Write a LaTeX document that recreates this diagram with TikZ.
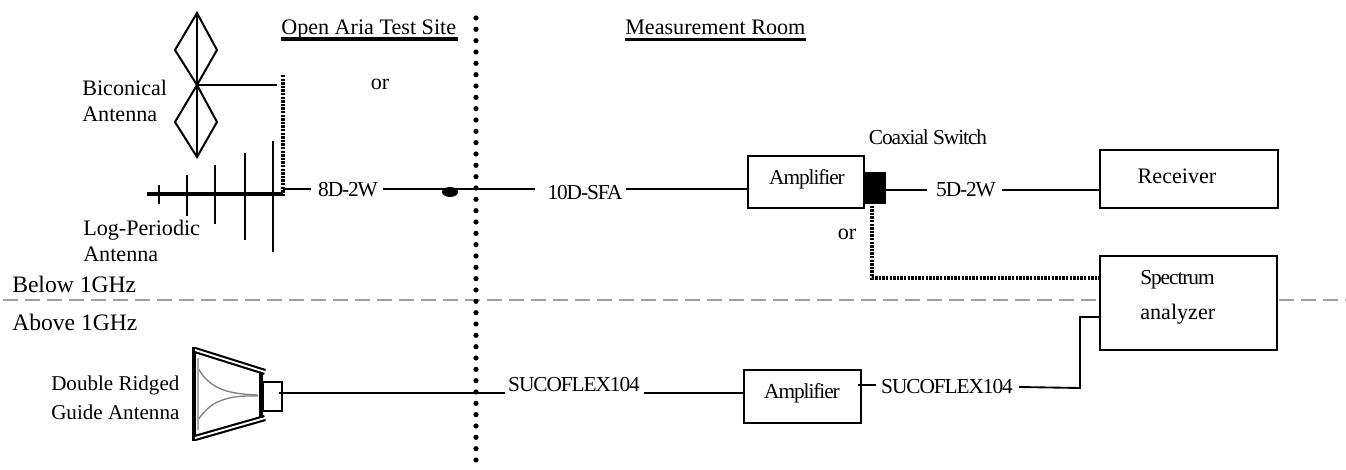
\documentclass[tikz,border=0pt]{standalone}
\usepackage{fontspec}
\setmainfont{Liberation Serif}
\newfontfamily\tightfont[LetterSpace=-5]{Liberation Serif}
\usetikzlibrary{calc}
\tikzset{
  x=0.75pt,y=-0.75pt,
  wire/.style={draw=black,line width=1.4pt},
  dotline/.style={draw=black,line width=2.3pt,dash pattern=on 1.8pt off 0.9pt},
  txt/.style={inner sep=0pt,font=\fontsize{16.6pt}{18pt}\selectfont,anchor=base west},
  ctxt/.style={inner sep=0pt,font=\fontsize{16.6pt}{18pt}\selectfont,anchor=base},
  ttxt/.style={inner sep=0pt,font=\tightfont\fontsize{16pt}{18pt}\selectfont,anchor=base},
  boxn/.style={draw=black,line width=1.6pt,fill=white,inner sep=0pt},
  element/.style={draw=black,line width=1.5pt},
}
\newcommand{\boxat}[5]{\node[boxn,minimum width=#4*0.75pt,minimum height=#5*0.75pt,anchor=north west] (#1) at (#2,#3) {};}
\begin{document}
\begin{tikzpicture}
\useasboundingbox (0,0) rectangle (1346,470);
% separator
\coordinate (dashL) at (3,300);
\coordinate (dashR) at (1346,300);
\draw[draw=black!38,line width=1.5pt,dash pattern=on 11.5pt off 5pt] (dashL) -- (dashR);
% vertical boundary
\coordinate (vT) at (476,18);
\coordinate (vB) at (476,470);
\draw[line width=3.9pt,line cap=round,dash pattern=on 0pt off 8.5pt] (vT) -- (vB);
% headings
\node[txt] (openT) at (281,35) {Open Aria Test Site};
\draw[line width=3pt] (281,39.5) -- (458,39.5);
\node[txt] (measT) at (625,35) {Measurement Room};
\draw[line width=2.4pt] (625,39.5) -- (806,39.5);
\node[ctxt] (or1) at (380,90) {or};
% biconical
\coordinate (bT) at (197,13);
\coordinate (bC) at (197,85);
\coordinate (bB) at (197,157);
\draw[element] (bT) -- (217,50) -- (bC) -- (217,122) -- (bB) -- (175,122) -- (bC) -- (175,50) -- cycle;
\draw[element] (bT) -- (bB);
\coordinate (swT) at (283,75);
\coordinate (swB) at (283,197);
\draw[wire] (bC) -- (277,85);
\draw[dotline] (swT) -- (swB);
\node[txt] (bic1) at (82,96) {Biconical};
\node[txt] (bic2) at (82,122) {Antenna};
% log periodic
\draw[line width=2.4pt] (147,194) -- (swB |- 0,194);
\foreach \xx/\ya/\yb in {159/185/204,187/175/216,215/165/224,245/153/240,273/141/252}
  \draw[element] (\xx,\ya) -- (\xx,\yb);
\node[txt] (lp1) at (83,236) {Log-Periodic};
\node[txt] (lp2) at (83,262) {Antenna};
% cable 1
\node[ttxt] (c8d) at (348,197) {8D-2W};
\draw[wire] (283,189) -- (311,189);
\draw[wire] (383,189) -- (535,189);
\fill (450,192) ellipse [x radius=8,y radius=5];
\node[ttxt] (c10d) at (585,200) {10D-SFA};
\boxat{amp}{747}{155}{116}{52}
\node[ttxt] (ampt) at (807,185) {Amplifier};
\draw[wire] (626,189) -- (amp.west |- 0,189);
\node[boxn,fill=black,minimum width=15.75pt,minimum height=22.5pt,anchor=north west] (sw) at (863,172) {};
\node[ttxt] (swl) at (928,145) {Coaxial Switch};
\node[ttxt] (c5d) at (966,197) {5D-2W};
\boxat{rcv}{1099}{149}{178}{58}
\node[ctxt] (rcvt) at (1177,184) {Receiver};
\draw[wire] (sw.east |- 0,190) -- (927,190);
\draw[wire] (1002,190) -- (rcv.west |- 0,190);
\node[ctxt] (or2) at (847,240) {or};
\boxat{spec}{1099}{255}{177}{94}
\node[txt,font=\tightfont\fontsize{16pt}{18pt}\selectfont] (sp1) at (1140,285) {Spectrum};
\node[txt] (sp2) at (1140,320) {analyzer};
\coordinate (dotC) at (872,278);
\draw[dotline] (872,202) -- (dotC) -- (spec.west |- dotC);
% region labels
\node[txt,font=\fontsize{17.7pt}{19pt}\selectfont] (below) at (12,293) {Below 1GHz};
\node[txt,font=\fontsize{17.7pt}{19pt}\selectfont] (above) at (12,330) {Above 1GHz};
% horn
\node[txt,font=\fontsize{15.8pt}{18pt}\selectfont] (dr1) at (51,390) {Double Ridged};
\node[txt,font=\fontsize{15.8pt}{18pt}\selectfont] (dr2) at (51,419) {Guide Antenna};
\draw[line width=3pt] (193.5,347) -- (193.5,441);
\draw[line width=4.6pt] (195,350) -- (265,372);
\draw[line width=1.4pt,white] (195,350) -- (265,372);
\draw[line width=4.6pt] (195,438) -- (265,418);
\draw[line width=1.4pt,white] (195,438) -- (265,418);
\draw[line width=3pt] (261,372) -- (261,418);
\draw[black!50,line width=1pt] (198,368) .. controls (210,390) and (230,394) .. (258,395);
\draw[black!50,line width=1pt] (198,420) .. controls (210,402) and (225,395) .. (258,396);
\draw[black!35,line width=1pt] (198,358) -- (198,430);
\boxat{feed}{262}{381}{19}{29}
\draw[wire] (279,393) -- (505,393);
% lower chain
\node[ttxt] (s1) at (574,392) {SUCOFLEX104};
\boxat{amp2}{743}{369}{117}{53}
\draw[wire] (644,393) -- (amp2.west |- 0,393);
\node[ttxt] (amp2t) at (802,398) {Amplifier};
\node[ttxt] (s2) at (947,393) {SUCOFLEX104};
\draw[wire] (858,385) -- (876,385);
\coordinate (corner) at (1080,388);
\draw[wire] (1019,387) -- (corner) -- (corner |- 0,317) -- (spec.west |- 0,317);
\end{tikzpicture}
\end{document}
